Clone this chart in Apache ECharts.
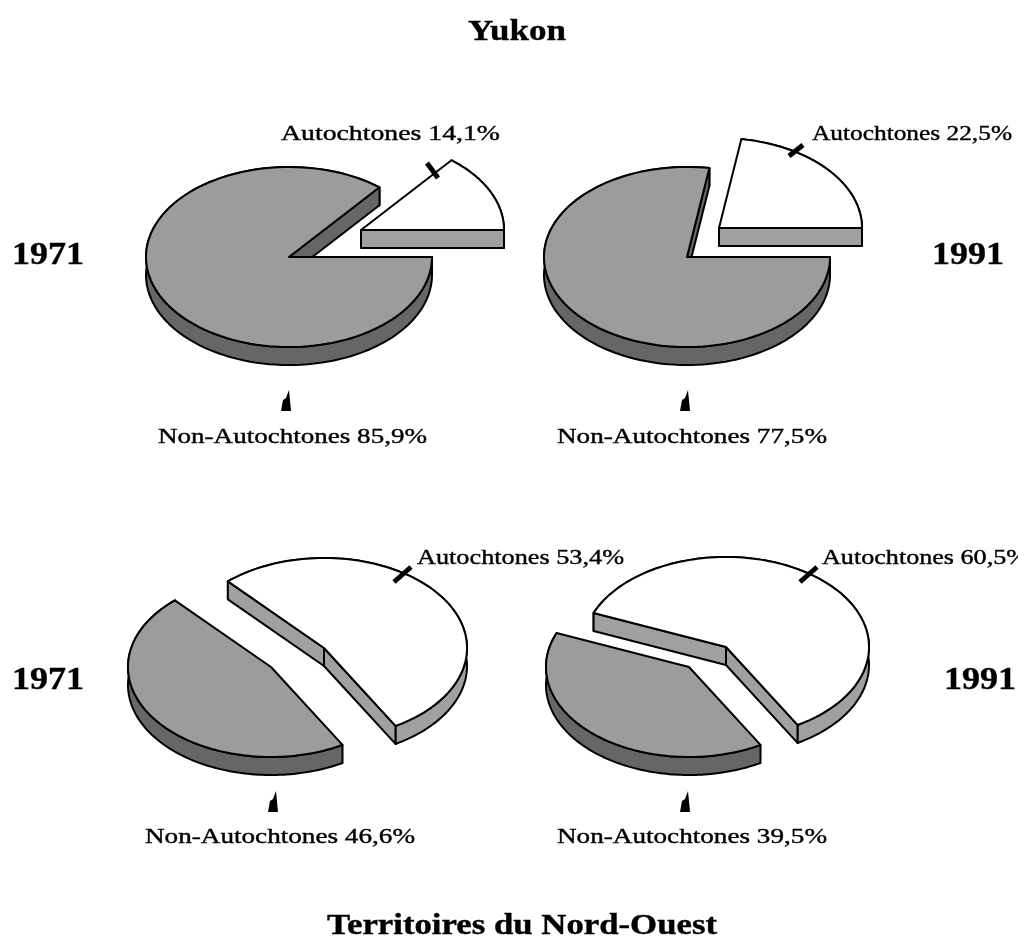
<!DOCTYPE html>
<html><head><meta charset="utf-8">
<style>html,body{margin:0;padding:0;background:#fff;overflow:hidden}#c{width:1018px;height:939px}</style>
<script src="https://cdn.jsdelivr.net/npm/echarts@6/dist/echarts.min.js"></script>
</head><body><div id="c"></div>
<script>
// ---- data ----
const sliceNames = ['Autochtones', 'Non-Autochtones'];
const years = ['1971', '1991', '1971', '1991'];
const autochtones = [14.1, 22.5, 53.4, 60.5];
const nonAutochtones = [85.9, 77.5, 46.6, 39.5];
const regionTitles = ['Yukon', 'Territoires du Nord-Ouest'];

// ---- layout (pixels) ----
const RX = 143, RY = 90, DEPTH = 18;
const pies = [
  {cx:289, cy:257, dx:72, dy:-27, start:0},
  {cx:687, cy:257, dx:32, dy:-29, start:0},
  {cx:271, cy:667, dx:53, dy:-19, start:-60},
  {cx:689, cy:667, dx:37, dy:-20, start:-60}
];
const autoLabels = [{x:281,y:134,w:219},{x:812,y:134,w:200},{x:417,y:558,w:207},{x:822,y:558,w:206}];
const nonLabels  = [{x:158,y:437,w:269},{x:557,y:437,w:270},{x:145,y:837,w:270},{x:557,y:837,w:270}];
const yearLabels = [{x:12,y:256},{x:932,y:256},{x:12,y:681},{x:944,y:681}];
const titleLabels = [{x:468,y:32,w:98},{x:327,y:926,w:390}];
const autoTicks = [[[427,163],[438,178]],[[789,156],[803,145]],[[394,582],[411,567]],[[800,582],[817,567]]];
const nonTicks = [[287,390],[686,390],[274,791],[686,791]];

const TOP = ['#ffffff', '#9c9c9c'], WALL = ['#a0a0a0', '#666666'];
const chart = echarts.init(document.getElementById('c'), null, {renderer:'canvas'});

function renderSlice(pieIdx) {
  return function (params, api) {
    const p = pies[pieIdx];
    const i = params.dataIndex;
    const share = api.value(0), before = api.value(1);
    const a0 = p.start + before * 3.6, a1 = a0 + share * 3.6;
    const ox = i === 0 ? p.dx / RX : 0, oy = i === 0 ? -p.dy / RY : 0;
    const d = DEPTH / RY;
    const N = 120;
    const arc = [], arcLow = [];
    for (let k = 0; k <= N; k++) {
      const t = (a0 + (a1 - a0) * k / N) * Math.PI / 180;
      const u = ox + Math.cos(t), v = oy + Math.sin(t);
      arc.push(api.coord([u, v]));
      arcLow.push(api.coord([u, v - d]));
    }
    const apex = api.coord([ox, oy]), apexLow = api.coord([ox, oy - d]);
    const stroke = {stroke:'#000', lineWidth:2, lineJoin:'round'};
    const poly = (pts, fill) => ({type:'polygon', shape:{points:pts}, style:Object.assign({fill:fill}, stroke)});
    const wall = WALL[i];
    const children = [poly(arc.concat(arcLow.slice().reverse()), wall)];
    // a cut face shows only when its outward normal points down
    if (Math.sin((a0 - 90) * Math.PI / 180) < 0) children.push(poly([apex, arc[0], arcLow[0], apexLow], wall));
    if (Math.sin((a1 + 90) * Math.PI / 180) < 0) children.push(poly([apex, arc[N], arcLow[N], apexLow], wall));
    children.push(poly([apex].concat(arc), TOP[i]));
    return {type:'group', children};
  };
}

const grid = [], xAxis = [], yAxis = [], series = [];
pies.forEach((p, i) => {
  grid.push({left:p.cx - RX, top:p.cy - RY, width:2 * RX, height:2 * RY});
  xAxis.push({type:'value', gridIndex:i, min:-1, max:1, show:false});
  yAxis.push({type:'value', gridIndex:i, min:-1, max:1, show:false});
  series.push({
    type:'custom', xAxisIndex:i, yAxisIndex:i, clip:false, silent:true, animation:false,
    encode:{x:[], y:[]},
    data:[
      {name:sliceNames[0], value:[autochtones[i], 0]},
      {name:sliceNames[1], value:[nonAutochtones[i], autochtones[i]]}
    ],
    renderItem:renderSlice(i)
  });
});

const ctx = document.createElement('canvas').getContext('2d');
function fit(text, font, w) { ctx.font = font; return w / ctx.measureText(text).width; }
function textEl(text, l, size, weight) {
  const font = weight + ' ' + size + 'px "Liberation Serif"';
  return {type:'text', x:l.x, y:l.y, scaleX:fit(text, font, l.w), silent:true, z:10,
    style:{text:text, font:font, fill:'#000', stroke:'#000', lineWidth:0.4, textAlign:'left', textVerticalAlign:'middle'}};
}
const pct = v => v.toFixed(1).replace('.', ',') + '%';
const graphic = [];
pies.forEach((p, i) => {
  graphic.push(textEl(sliceNames[0] + ' ' + pct(autochtones[i]), autoLabels[i], 22, 'normal'));
  graphic.push(textEl(sliceNames[1] + ' ' + pct(nonAutochtones[i]), nonLabels[i], 22, 'normal'));
  graphic.push(textEl(years[i], Object.assign({w:72}, yearLabels[i]), 32, 'bold'));
  const t = autoTicks[i];
  graphic.push({type:'line', z:10, silent:true, shape:{x1:t[0][0], y1:t[0][1], x2:t[1][0], y2:t[1][1]},
    style:{stroke:'#000', lineWidth:5}});
  const n = nonTicks[i];
  graphic.push({type:'polygon', z:10, silent:true,
    shape:{points:[[n[0]+2,n[1]],[n[0]+4,n[1]+21],[n[0]-6,n[1]+21],[n[0]-4,n[1]+10],[n[0]-1,n[1]+8]]},
    style:{fill:'#000'}});
});
regionTitles.forEach((t, i) => graphic.push(textEl(t, titleLabels[i], 30, 'bold')));

chart.setOption({animation:false, backgroundColor:'#fff', grid, xAxis, yAxis, series, graphic});
</script></body></html>
